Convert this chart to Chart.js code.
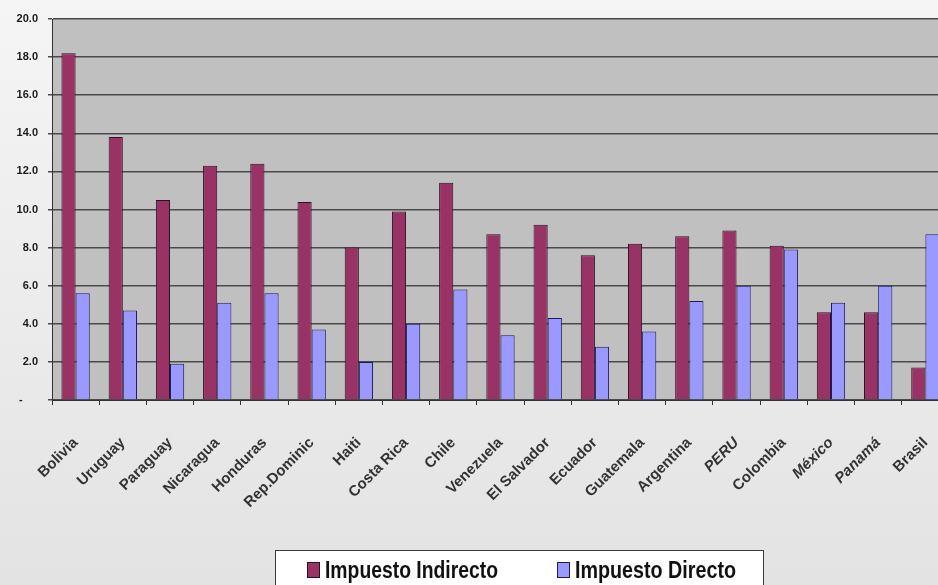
<!DOCTYPE html>
<html lang="es">
<head>
<meta charset="UTF-8">
<title>Impuesto Indirecto vs Directo</title>
<script src="https://cdn.jsdelivr.net/npm/chart.js@4"></script>
<style>
  html, body { margin: 0; padding: 0; overflow: hidden; }
  body { width: 938px; height: 585px; background: linear-gradient(to bottom, #f5f5f5, #e3e3e3); }
  canvas { display: block; }
</style>
</head>
<body>
<canvas id="chart" width="949" height="585"></canvas>
<script>
// data (% of GDP)
const countries = ['Bolivia', 'Uruguay', 'Paraguay', 'Nicaragua', 'Honduras', 'Rep.Dominic', 'Haiti',
  'Costa Rica', 'Chile', 'Venezuela', 'El Salvador', 'Ecuador', 'Guatemala', 'Argentina', 'PERU',
  'Colombia', 'México', 'Panamá', 'Brasil'];
const indirecto = [18.2, 13.8, 10.5, 12.3, 12.4, 10.4, 8.0, 9.9, 11.4, 8.7, 9.2, 7.6, 8.2, 8.6, 8.9, 8.1, 4.6, 4.6, 1.7];
const directo = [5.6, 4.7, 1.9, 5.1, 5.6, 3.7, 2.0, 4.0, 5.8, 3.4, 4.3, 2.8, 3.6, 5.2, 6.0, 7.9, 5.1, 6.0, 8.7];
const seriesNames = ['Impuesto Indirecto', 'Impuesto Directo'];
const italicLabels = ['PERU', 'México', 'Panamá'];

const FONT = 'Arial, "Liberation Sans", sans-serif';

// grey plot background
const plotBg = {
  id: 'plotBg',
  beforeDraw(chart) {
    const { ctx, chartArea: a } = chart;
    ctx.save();
    ctx.fillStyle = '#c0c0c0';
    ctx.fillRect(a.left, a.top, a.right - a.left, a.bottom - a.top);
    ctx.restore();
  }
};

// boxed legend, offset like the original (narrow, tall lettering)
const boxLegend = {
  id: 'boxLegend',
  afterDraw(chart) {
    const ctx = chart.ctx;
    ctx.save();
    ctx.fillStyle = '#ffffff';
    ctx.fillRect(275, 550, 488, 45);
    ctx.strokeStyle = '#3a3a3a';
    ctx.lineWidth = 1;
    ctx.strokeRect(275.5, 550.5, 488, 45);
    const items = [{ x: 307, w: 173 }, { x: 557, w: 161 }];
    ctx.font = 'bold 23px ' + FONT;
    ctx.textBaseline = 'alphabetic';
    chart.data.datasets.forEach((ds, i) => {
      const x = items[i].x;
      ctx.fillStyle = ds.backgroundColor;
      ctx.fillRect(x, 562, 12, 15);
      ctx.strokeStyle = ds.borderColor;
      ctx.strokeRect(x + 0.5, 562.5, 12, 15);
      ctx.fillStyle = '#111';
      const sx = items[i].w / ctx.measureText(ds.label).width;
      ctx.save();
      ctx.translate(x + 18, 578);
      ctx.scale(sx, 1);
      ctx.fillText(ds.label, 0, 0);
      ctx.restore();
    });
    ctx.restore();
  }
};

new Chart(document.getElementById('chart'), {
  type: 'bar',
  data: {
    labels: countries,
    datasets: [
      { label: seriesNames[0], data: indirecto, backgroundColor: '#993366', borderColor: '#2a1020', borderWidth: 1 },
      { label: seriesNames[1], data: directo, backgroundColor: '#9999ff', borderColor: '#1a1a60', borderWidth: 1 }
    ]
  },
  options: {
    responsive: false,
    animation: false,
    layout: { padding: { top: 19, left: 0, right: 0, bottom: 0 } },
    datasets: { bar: { categoryPercentage: 0.6, barPercentage: 1.0 } },
    plugins: { legend: { display: false }, tooltip: { enabled: false } },
    scales: {
      x: {
        afterFit(scale) {
          scale.height = 185;
          scale.paddingLeft = 0;
          scale.paddingRight = 0;
        },
        grid: { offset: true, drawOnChartArea: false, drawTicks: true, tickLength: 5, color: '#333' },
        border: { color: '#333', width: 1 },
        ticks: {
          autoSkip: false,
          maxRotation: 45,
          minRotation: 45,
          padding: 29,
          color: '#333',
          font: (c) => ({
            family: FONT,
            size: 15,
            weight: 'bold',
            style: italicLabels.includes(countries[c.index]) ? 'italic' : 'normal'
          })
        }
      },
      y: {
        min: 0,
        max: 20,
        afterFit(scale) { scale.width = 52; },
        grid: { color: '#4a4a4a', lineWidth: 1.5, drawTicks: true, tickLength: 4 },
        border: { color: '#333', width: 1 },
        ticks: {
          stepSize: 2,
          padding: 10,
          color: '#1a1a1a',
          font: { family: FONT, size: 11, weight: 'bold' },
          callback: (v) => v === 0 ? '-     ' : v.toFixed(1)
        }
      }
    }
  },
  plugins: [plotBg, boxLegend]
});
</script>
</body>
</html>
